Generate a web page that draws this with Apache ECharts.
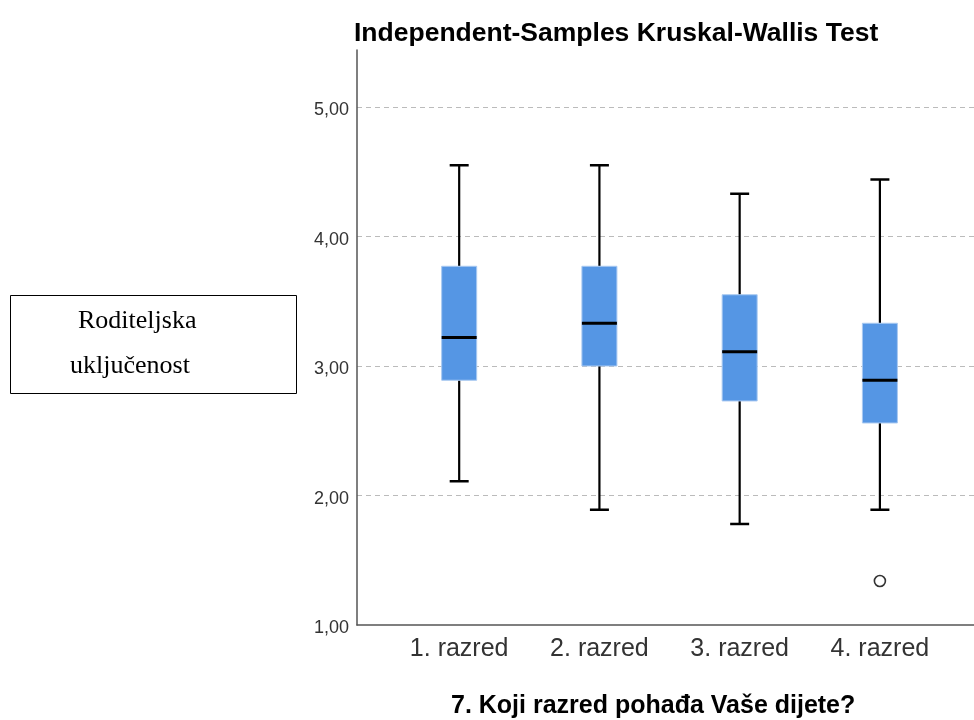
<!DOCTYPE html>
<html>
<head>
<meta http-equiv="Content-Type" content="text/html;charset=utf-8">
<title>Kruskal-Wallis</title>
<style type="text/css">
html,body{
	margin: 0;
	padding: 0;
	background-color: #fff;
}
#main {
	width: 974px;
	height: 720px;
}
</style>
</head>
<body>
<div id="main"></div>
<script src="https://cdn.jsdelivr.net/npm/echarts@6/dist/echarts.min.js"></script>
<script type="text/javascript">
// grupe (razredi)
var categories = ['1. razred', '2. razred', '3. razred', '4. razred'];
// vrijednosti boxplota po grupi
var lowWhisker  = [2.11, 1.89, 1.78, 1.89];
var q1          = [2.89, 3.00, 2.73, 2.56];
var median      = [3.22, 3.33, 3.11, 2.89];
var q3          = [3.77, 3.77, 3.55, 3.33];
var highWhisker = [4.55, 4.55, 4.33, 4.44];
// outlieri: [redni broj grupe, vrijednost]
var outliers = [[4, 1.34]];
var yTicks = [1, 2, 3, 4, 5];

var boxData = [];
for (var i = 0; i < categories.length; i++) {
	boxData.push([i + 1, lowWhisker[i], q1[i], median[i], q3[i], highWhisker[i]]);
}

function renderBox(params, api) {
	var x = api.value(0);
	var pLow = api.coord([x, api.value(1)]);
	var pQ1 = api.coord([x, api.value(2)]);
	var pMed = api.coord([x, api.value(3)]);
	var pQ3 = api.coord([x, api.value(4)]);
	var pHigh = api.coord([x, api.value(5)]);
	var half = 17.5, cap = 9.5;
	var line = {stroke: '#000', lineWidth: 2.2};
	return {
		type: 'group',
		children: [
			{type: 'line', shape: {x1: pHigh[0], y1: pHigh[1], x2: pQ3[0], y2: pQ3[1]}, style: line},
			{type: 'line', shape: {x1: pQ1[0], y1: pQ1[1], x2: pLow[0], y2: pLow[1]}, style: line},
			{type: 'line', shape: {x1: pHigh[0] - cap, y1: pHigh[1], x2: pHigh[0] + cap, y2: pHigh[1]}, style: {stroke: '#000', lineWidth: 2.5}},
			{type: 'line', shape: {x1: pLow[0] - cap, y1: pLow[1], x2: pLow[0] + cap, y2: pLow[1]}, style: {stroke: '#000', lineWidth: 2.5}},
			{type: 'rect', shape: {x: pQ3[0] - half, y: pQ3[1], width: half * 2, height: pQ1[1] - pQ3[1]},
				style: {fill: '#5596e4', stroke: '#a9c9f1', lineWidth: 1}},
			{type: 'line', shape: {x1: pMed[0] - half, y1: pMed[1], x2: pMed[0] + half, y2: pMed[1]}, style: {stroke: '#000', lineWidth: 3}}
		]
	};
}

var option = {
	backgroundColor: '#fff',
	animation: false,
	title: [
		{
			text: 'Independent-Samples Kruskal-Wallis Test',
			left: 349,
			top: 15,
			textStyle: {fontFamily: 'Liberation Sans, Arial', fontSize: 26.5, fontWeight: 'bold', color: '#000'}
		},
		{
			text: '7. Koji razred pohađa Vaše dijete?',
			left: 446,
			top: 689,
			textStyle: {fontFamily: 'Liberation Sans, Arial', fontSize: 25, fontWeight: 'bold', color: '#000'}
		}
	],
	grid: {
		left: 357,
		right: 0,
		top: 50,
		bottom: 95,
		containLabel: false
	},
	xAxis: {
		type: 'value',
		min: 0.2714,
		max: 4.671,
		axisLine: {show: true, lineStyle: {color: '#555', width: 1.5}},
		axisTick: {show: false},
		splitLine: {show: false},
		axisLabel: {
			customValues: [1, 2, 3, 4],
			margin: 12,
			color: '#333',
			fontFamily: 'Liberation Sans, Arial',
			fontSize: 25,
			formatter: function (v) { return categories[Math.round(v) - 1] || ''; }
		}
	},
	yAxis: {
		type: 'value',
		min: 1,
		max: 5.44,
		axisLine: {show: true, lineStyle: {color: '#555', width: 1.5}},
		axisTick: {show: false},
		axisLabel: {
			customValues: yTicks,
			margin: 8,
			color: '#333',
			fontFamily: 'Liberation Sans, Arial',
			fontSize: 18,
			verticalAlign: 'top',
			lineHeight: 7,
			formatter: function (v) { return v.toFixed(2).replace('.', ','); }
		},
		splitLine: {
			show: true,
			showMinLine: false,
			showMaxLine: false,
			lineStyle: {color: '#bbb', type: [5, 4], width: 1.2}
		},
		interval: 1
	},
	graphic: [
		{
			type: 'rect',
			shape: {x: 10.5, y: 295.5, width: 286, height: 98},
			style: {fill: '#fff', stroke: '#000', lineWidth: 1}
		},
		{
			type: 'text',
			x: 78, y: 321,
			style: {text: 'Roditeljska', font: '26px "Liberation Serif", "Times New Roman", serif', fill: '#000', verticalAlign: 'middle'}
		},
		{
			type: 'text',
			x: 70, y: 366,
			style: {text: 'uključenost', font: '26px "Liberation Serif", "Times New Roman", serif', fill: '#000', verticalAlign: 'middle'}
		}
	],
	series: [
		{
			type: 'custom',
			renderItem: renderBox,
			encode: {x: 0, y: [1, 2, 3, 4, 5]},
			data: boxData,
			z: 3
		},
		{
			type: 'scatter',
			data: outliers,
			symbol: 'circle',
			symbolSize: 11,
			itemStyle: {color: '#fff', borderColor: '#333', borderWidth: 1.6, opacity: 1},
			z: 4
		}
	]
};

var myChart = echarts.init(document.getElementById('main'));
myChart.setOption(option);
</script>
</body>
</html>
